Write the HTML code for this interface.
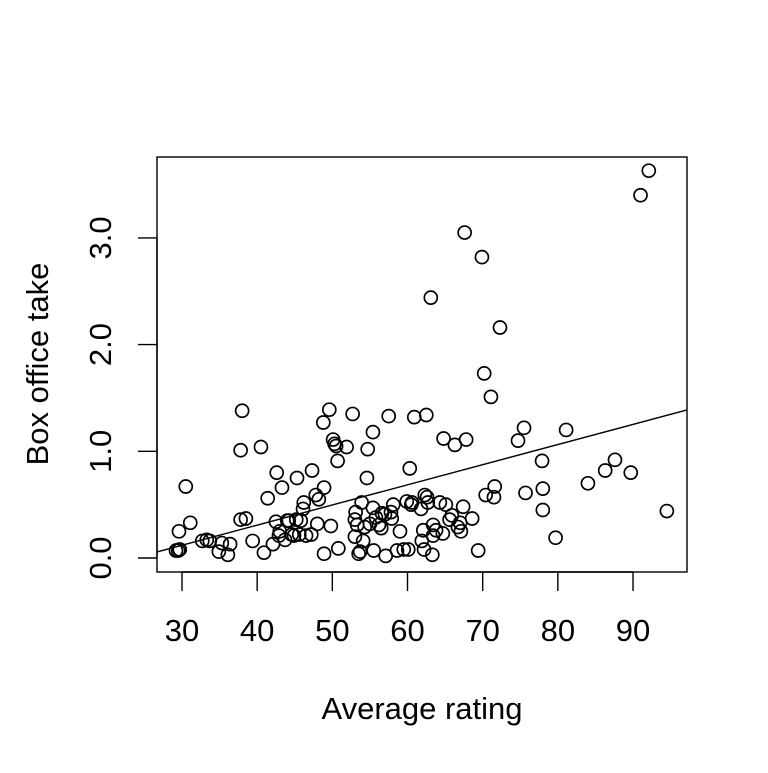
<!DOCTYPE html>
<html><head><meta charset="utf-8"><style>
html,body{margin:0;padding:0;background:#fff;}
svg text{font-family:"Liberation Sans",Arial,sans-serif;fill:#000;}
</style></head><body>
<svg id="chart" width="768" height="768" xmlns="http://www.w3.org/2000/svg">
<rect width="768" height="768" fill="#fff"/>
<g id="axes"></g>
<g id="points"></g>
</svg>
<script>
const ratings=[29.5,29.2,29.7,29.6,30.5,31.1,32.7,33.3,33.7,34.9,35.3,36.1,36.4,37.8,38.5,38.0,37.8,39.4,40.5,40.9,41.4,42.1,42.5,42.6,42.9,43.0,43.3,43.7,44.0,44.2,44.6,44.9,45.2,45.3,45.6,45.8,46.1,46.2,46.5,47.2,47.3,47.8,48.0,48.2,48.8,48.9,48.9,49.6,49.8,50.1,50.3,50.5,50.7,50.8,51.9,52.7,53.0,53.0,53.1,53.3,53.5,53.7,53.9,54.1,54.3,54.6,54.7,55.0,55.4,55.4,55.5,55.8,56.2,56.5,56.6,57.0,57.1,57.5,57.8,57.9,58.1,58.6,59.0,59.5,59.9,60.1,60.3,60.5,60.6,60.9,61.8,61.9,62.1,62.2,62.3,62.5,62.6,62.7,63.1,63.3,63.4,63.4,63.8,64.3,64.7,64.8,65.1,65.6,65.9,66.3,66.7,67.0,67.1,67.4,67.6,67.8,68.6,69.4,69.9,70.2,70.4,71.1,71.5,71.6,72.3,74.7,75.5,75.7,77.9,78.0,78.0,79.7,81.1,84.0,86.3,87.6,89.7,91.0,92.1,94.5];
const boxOffice=[0.07,0.07,0.08,0.25,0.67,0.33,0.16,0.17,0.16,0.06,0.14,0.03,0.13,0.36,0.37,1.38,1.01,0.16,1.04,0.05,0.56,0.13,0.34,0.80,0.21,0.25,0.66,0.17,0.35,0.35,0.22,0.21,0.36,0.75,0.22,0.35,0.46,0.52,0.21,0.22,0.82,0.59,0.32,0.55,1.27,0.04,0.66,1.39,0.30,1.11,1.07,1.05,0.91,0.09,1.04,1.35,0.20,0.36,0.43,0.31,0.04,0.06,0.52,0.16,0.29,0.75,1.02,0.32,1.18,0.47,0.07,0.38,0.31,0.28,0.42,0.41,0.02,1.33,0.43,0.37,0.50,0.07,0.25,0.08,0.53,0.08,0.84,0.50,0.52,1.32,0.46,0.16,0.26,0.08,0.59,1.34,0.57,0.52,2.44,0.03,0.31,0.21,0.26,0.52,0.23,1.12,0.50,0.36,0.40,1.06,0.29,0.33,0.25,0.48,3.05,1.11,0.37,0.07,2.82,1.73,0.59,1.51,0.57,0.67,2.16,1.10,1.22,0.61,0.91,0.65,0.45,0.19,1.20,0.70,0.82,0.92,0.80,3.40,3.63,0.44];
const xTicks=[30,40,50,60,70,80,90];
const yTicks=[0,1,2,3];
const yTickLabels=["0.0","1.0","2.0","3.0"];
const fitIntercept=-0.447, fitSlope=0.01888;
const xLabel="Average rating", yLabel="Box office take";

const NS="http://www.w3.org/2000/svg";
const L=157,R=687,T=157,B=572;
const xs=v=>182+(v-30)*7.517;
const ys=v=>558-v*106.7;
const axes=document.getElementById('axes');
const pts=document.getElementById('points');
function mk(tag,attrs,parent){const e=document.createElementNS(NS,tag);for(const k in attrs)e.setAttribute(k,attrs[k]);parent.appendChild(e);return e;}

let box=mk('rect',{x:L,y:T,width:R-L,height:B-T,fill:'none',stroke:'#000','stroke-width':1.4},axes);



let xa=mk('line',{x1:xs(xTicks[0]),x2:xs(xTicks[xTicks.length-1]),y1:B,y2:B,stroke:'#000','stroke-width':1.4},axes);


xTicks.forEach(t=>{
  let l=mk('line',{x1:xs(t),x2:xs(t),y1:B,y2:B+19,stroke:'#000','stroke-width':1.4},axes);
  
  
  let tx=mk('text',{x:xs(t),y:641,'text-anchor':'middle','font-size':31},axes);
  tx.textContent=t;
  
  
});
let ya=mk('line',{x1:L,x2:L,y1:ys(yTicks[0]),y2:ys(yTicks[yTicks.length-1]),stroke:'#000','stroke-width':1.4},axes);


yTicks.forEach((t,i)=>{
  let l=mk('line',{x1:L-19,x2:L,y1:ys(t),y2:ys(t),stroke:'#000','stroke-width':1.4},axes);
  
  
  let tx=mk('text',{x:0,y:0,'text-anchor':'middle','font-size':31,transform:`translate(111,${ys(t)}) rotate(-90)`},axes);
  tx.textContent=yTickLabels[i];
  
  
});
let xt=mk('text',{x:422,y:719,'text-anchor':'middle','font-size':31},axes);
xt.textContent=xLabel;


let yt=mk('text',{x:0,y:0,'text-anchor':'middle','font-size':31,transform:`translate(48,364) rotate(-90)`},axes);
yt.textContent=yLabel;



const x0=(L-182)/7.517+30, x1=(R-182)/7.517+30;
let fl=mk('line',{x1:L,x2:R,y1:ys(fitIntercept+fitSlope*x0),y2:ys(fitIntercept+fitSlope*x1),stroke:'#000','stroke-width':1.4},axes);



ratings.forEach((r,i)=>{
  let c=mk('circle',{cx:xs(r),cy:ys(boxOffice[i]),r:6.5,fill:'none',stroke:'#000','stroke-width':1.7},pts);
  
  
});
</script>
</body></html>
